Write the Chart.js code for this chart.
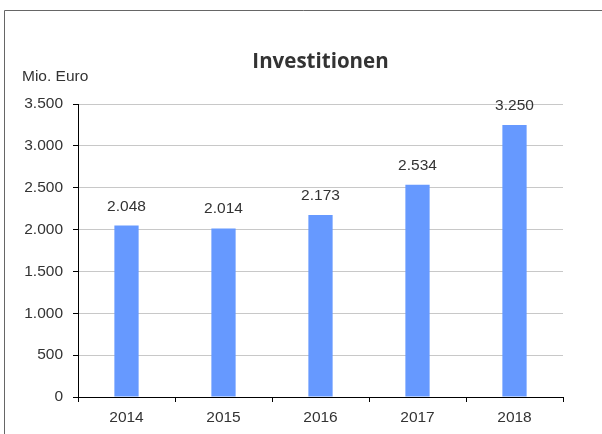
<!DOCTYPE html>
<html>
<head>
<meta charset="utf-8">
<script src="https://cdn.jsdelivr.net/npm/chart.js@4"></script>
<style>
  html, body { margin: 0; padding: 0; background: #fff; }
  #wrap { width: 602px; height: 434px; position: relative; }
</style>
</head>
<body>
<div id="wrap"><canvas id="invest" width="602" height="434"></canvas></div>
<script>
const jahre = ['2014', '2015', '2016', '2017', '2018'];
const investitionen = [2048, 2014, 2173, 2534, 3250];
const titel = 'Investitionen';
const einheit = 'Mio. Euro';

const textFarbe = '#333333';
const schrift = 'Liberation Sans, Arial, sans-serif';

// zahlen im deutschen format (3.250)
function fmt(v) {
  return v.toLocaleString('de-DE');
}

// rahmen, titel, einheit und werte über den balken
const extras = {
  id: 'extras',
  afterDraw(chart) {
    const ctx = chart.ctx;
    const area = chart.chartArea;
    ctx.save();
    ctx.strokeStyle = '#666666';
    ctx.lineWidth = 1;
    ctx.beginPath();
    ctx.moveTo(4.5, 440);
    ctx.lineTo(4.5, 10.5);
    ctx.lineTo(610, 10.5);
    ctx.stroke();

    ctx.fillStyle = textFarbe;
    ctx.textAlign = 'center';
    ctx.textBaseline = 'alphabetic';
    ctx.font = 'bold 20.5px "Open Sans", sans-serif';
    ctx.fillText(titel, (area.left + area.right) / 2, 68);

    ctx.font = '15.5px ' + schrift;
    ctx.textAlign = 'left';
    ctx.fillText(einheit, 22, 81);

    ctx.textAlign = 'center';
    const meta = chart.getDatasetMeta(0);
    meta.data.forEach((bar, i) => {
      ctx.fillText(fmt(investitionen[i]), bar.x, bar.y - 15);
    });
    ctx.restore();
  }
};

new Chart(document.getElementById('invest'), {
  type: 'bar',
  data: {
    labels: jahre,
    datasets: [{
      data: investitionen,
      backgroundColor: '#6699ff',
      borderWidth: 0,
      barPercentage: 0.25,
      categoryPercentage: 1
    }]
  },
  options: {
    responsive: false,
    animation: false,
    layout: { padding: { top: 104, right: 39, bottom: 0, left: 0 } },
    plugins: {
      legend: { display: false },
      tooltip: { enabled: false }
    },
    scales: {
      x: {
        offset: true,
        afterFit: (s) => { s.height = 37; },
        grid: {
          offset: true,
          drawOnChartArea: false,
          tickLength: 5,
          tickColor: '#000'
        },
        border: { color: '#000', width: 1 },
        ticks: { color: textFarbe, font: { family: schrift, size: 15.5 }, padding: 6 }
      },
      y: {
        min: 0,
        max: 3500,
        afterFit: (s) => { s.width = 78; },
        grid: {
          color: '#c8c8c8',
          tickColor: '#000',
          tickLength: 5
        },
        border: { color: '#000', width: 1 },
        ticks: {
          stepSize: 500,
          color: textFarbe,
          font: { family: schrift, size: 15.5 },
          padding: 10,
          callback: (v) => fmt(v)
        }
      }
    }
  },
  plugins: [extras]
});
</script>
</body>
</html>
